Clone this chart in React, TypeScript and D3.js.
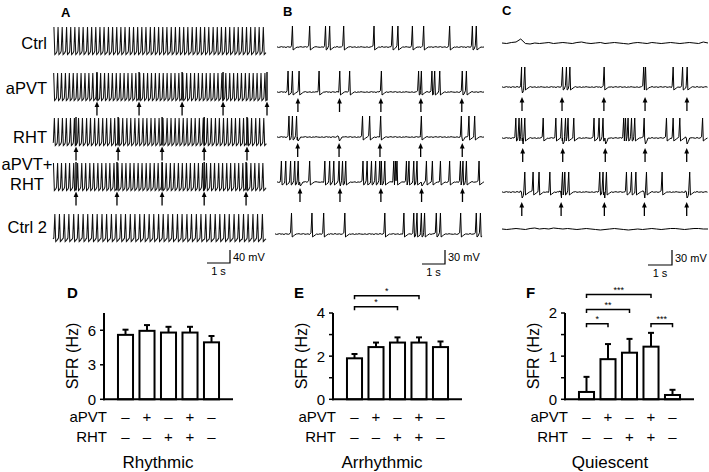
import React from "react";
import * as d3 from "d3";

// ---------- Panel A: spike times (units of 10 ms) ----------
const A_CTRL = [4,22,40,59,77,95,113,131,150,168,186,204,222,241,259,277,295,313,332,350,368,386,404,423,441,459,477,495,514,532,550,568,586,605,623,641,659,677,696,714,732,750,768,787,805,823,841,859,878,896,914];
const A_APVT = [3,20,37,54,71,88,105,122,139,156,173,191,207,224,241,258,275,292,309,326,343,360,377,394,411,428,445,462,479,496,513,530,547,564,581,598,615,632,649,666,683,700,717,734,751,768,785,802,819,836,853,870,887,904,921];
const A_RHT = [6,23,41,58,76,93,111,128,146,163,181,198,216,233,251,268,286,303,321,338,356,373,391,408,426,443,461,478,496,513,531,548,566,583,601,618,636,653,671,688,706,723,741,758,776,793,811,828,846,863,881,898,916];
const A_BOTH = [2,20,37,55,72,90,107,125,142,160,177,195,212,230,247,265,282,300,317,335,352,370,387,405,422,440,457,475,492,510,527,545,562,580,597,615,632,650,667,685,702,720,737,755,772,790,807,825,842,860,877,895,912];
const A_CTRL2 = [8,28,49,69,90,110,131,151,172,192,213,233,254,274,295,315,336,356,377,397,418,438,459,479,500,520,541,561,582,602,623,643,664,684,705,725,746,766,787,807,828,848,869,889,910];
const A_STIM_APVT = [191, 374, 561, 739, 930];
const A_STIM_RHT = [100, 283, 474, 657, 843];
const A_STIM_BOTH = [100, 278, 474, 657, 839];

// ---------- Panel B: spike times (s) ----------
const B_CTRL = [0.68,1.43,2.12,2.30,2.91,4.23,5.03,5.27,5.90,6.39,7.52,8.51,8.68];
const B_APVT = [0.49,0.68,0.97,1.84,2.74,3.17,4.55,6.17,6.29,6.75,6.87,7.09,8.07,8.25];
const B_RHT = [0.53,0.68,0.86,2.70,3.73,4.04,4.52,6.29,8.03,8.36,8.61];
const B_BOTH = [0.20,0.39,0.60,0.78,0.93,1.43,2.09,2.30,2.48,2.71,2.86,3.00,3.75,3.93,4.12,4.30,4.48,4.55,4.70,5.09,5.17,5.23,5.64,5.75,5.96,6.10,6.51,6.77,7.12,7.52,7.99,8.10,8.25,8.80];
const B_CTRL2 = [0.64,1.53,2.04,2.96,4.70,5.53,5.96,6.10,6.29,6.43,6.94,7.12,8.00,8.68,8.86];
const B_STIM_APVT = [0.91,2.72,4.52,6.26,8.04];
const B_STIM_RHT = [0.90,2.70,4.48,6.25,8.06];
const B_STIM_BOTH = [1.00,2.74,4.52,6.29,8.07];

// ---------- Panel C: spike times (s) ----------
const C_APVT = [0.86,1.00,2.64,2.81,2.96,4.45,6.17,6.25,7.45,7.86,8.06];
const C_RHT = [0.61,0.75,0.86,1.00,1.80,2.35,2.60,2.77,2.88,3.13,4.01,4.23,4.40,5.30,5.38,5.49,5.64,5.78,6.19,7.16,7.45,7.74,8.03,8.73];
const C_BOTH = [0.86,1.00,1.36,1.62,2.09,2.57,2.64,2.74,2.91,4.26,4.40,4.55,5.42,5.64,5.83,6.19,6.29,6.97,8.03,8.17];
const C_STIM_APVT = [0.87,2.61,4.43,6.22,8.04];
const C_STIM_RHT = [0.90,2.64,4.49,6.22,8.03];
const C_STIM_BOTH = [0.86,2.57,4.45,6.19,8.03];
const C_CTRL_WIGGLE = [0,0.5,-0.5,-1,-4,0.5,1,0,0.5,0,-0.5,0.5,0,-0.5,0,0.5,-0.5,-1,0,0.5,0,-0.5,0.5,0,-0.5,0,0.5,1,0,-0.5,0,0.5,-0.5,0,0.5,0,-0.5,0,0.5,0,-0.5,0,0.5,-1,0];
const C_CTRL2_WIGGLE = [0,0.5,0,-0.5,0,0.5,-0.5,-1,0,-0.5,0,-1,-0.5,0,-0.5,0,0.5,0,-0.5,0,0.5,1,0.5,0,-0.5,0,0.5,1,0.5,0,0.5,0,-0.5,0,0.5,0,-0.5,-0.5,0,0.5,0,-0.5,-0.5,0,0];
const NOISE = [0.3,-0.2,0.4,0.1,-0.4,0.2,-0.1,0.5,-0.3,0,0.3,-0.5,0.2,0.1,-0.2,0.4,-0.1,-0.3,0.2,0,-0.4,0.3,0.1,-0.2,0.5,-0.1,0.2,-0.3,0,0.2];

const ROW_LABELS = ["Ctrl", "aPVT", "RHT", "aPVT+|RHT", "Ctrl 2"];

// ---------- Bar charts ----------
const CONDITIONS = ["ctrl", "apvt", "rht", "both", "ctrl2"];
const APVT_SIGNS = ["–", "+", "–", "+", "–"];
const RHT_SIGNS = ["–", "–", "+", "+", "–"];
const D_MEAN = [5.6, 5.95, 5.8, 5.8, 4.95];
const D_ERR = [0.45, 0.5, 0.5, 0.5, 0.55];
const E_MEAN = [1.9, 2.42, 2.63, 2.63, 2.42];
const E_ERR = [0.2, 0.21, 0.24, 0.24, 0.26];
const F_MEAN = [0.17, 0.93, 1.08, 1.22, 0.1];
const F_ERR = [0.35, 0.35, 0.32, 0.32, 0.12];
const D_TICKS = [0, 3, 6];
const E_TICKS = [0, 2, 4];
const E_MINOR = [1, 3];
const F_TICKS = [0, 1, 2];
const F_MINOR = [0.5, 1.5];
const E_SIG = [{ a: 0, b: 3, label: "*", at: 4.8 }, { a: 0, b: 2, label: "*", at: 4.29 }];
const F_SIG = [
  { a: 0, b: 3, label: "***", at: 2.43 },
  { a: 0, b: 2, label: "**", at: 2.08 },
  { a: 0, b: 1, label: "*", at: 1.75 },
  { a: 3, b: 4, label: "***", at: 1.75 },
];

const FONT = "'Liberation Sans', Arial, Helvetica, sans-serif";

type Shape = number[][];

function tracePath(spikeX: number[], stimX: number[], x0: number, x1: number, base: number, amp: number, dense: boolean, stimDepth: number): string {
  const spikeShape: Shape = dense
    ? [[-1, -1], [0, -amp], [0.9, 2.5], [1.8, 1.6], [2.6, 0.6]]
    : [[-1.2, -1.2], [-0.2, -amp], [0.5, 3], [1.5, 2.2], [3, 1], [4.5, 0]];
  const stimShape: Shape = [[-0.4, 0], [0.4, stimDepth], [1.6, stimDepth * 0.6], [3, 0]];
  const evs = [
    ...spikeX.map((x) => ({ x, shape: spikeShape })),
    ...stimX.map((x) => ({ x, shape: stimShape })),
  ].sort((p, q) => p.x - q.x);
  const pts: [number, number][] = [];
  evs.forEach((e, i) => {
    const nextStart = i < evs.length - 1 ? evs[i + 1].x + evs[i + 1].shape[0][0] : Infinity;
    e.shape.forEach(([dx, dy]) => {
      const px = e.x + dx;
      if (px < nextStart && px >= x0 && px <= x1) pts.push([px, base + dy]);
    });
  });
  let k = 0;
  for (let x = x0; x <= x1; x += 1.5) {
    k++;
    const inside = evs.some((e) => x >= e.x + e.shape[0][0] - 0.2 && x <= e.x + e.shape[e.shape.length - 1][0] + 0.2);
    if (!inside) pts.push([x, base + NOISE[k % NOISE.length]]);
  }
  pts.sort((p, q) => p[0] - q[0]);
  return d3.line()(pts) || "";
}

function Arrow({ x, tip }: { x: number; tip: number }) {
  return (
    <g>
      <line x1={x} x2={x} y1={tip + 4} y2={tip + 14} stroke="#000" strokeWidth={1.3} />
      <path d={`M${x},${tip} L${x - 2.4},${tip + 5.5} L${x + 2.4},${tip + 5.5} Z`} fill="#000" />
    </g>
  );
}

function ScaleBar({ xr, yb, h, w, mv }: { xr: number; yb: number; h: number; w: number; mv: string }) {
  return (
    <g fontFamily={FONT} fontSize={11}>
      <path d={`M${xr - w},${yb} H${xr} V${yb - h}`} fill="none" stroke="#000" strokeWidth={1.2} />
      <text x={xr + 3} y={yb - h / 2 + 4}>{mv}</text>
      <text x={xr - w / 2} y={yb + 12} textAnchor="middle">1 s</text>
    </g>
  );
}

function BarPanel({ x0, means, errs, max, ticks, minor, sig, title, titleX }: {
  x0: number; means: number[]; errs: number[]; max: number; ticks: number[]; minor: number[];
  sig: { a: number; b: number; label: string; at: number }[]; title: string; titleX: number;
}) {
  const y = d3.scaleLinear().domain([0, max]).range([399.3, 313]);
  const x = d3.scaleBand<string>().domain(CONDITIONS).range([x0 + 10.75, x0 + 118.25]).paddingInner(0.3).paddingOuter(0.15);
  const cx = (i: number) => (x(CONDITIONS[i]) as number) + x.bandwidth() / 2;
  return (
    <g fontFamily={FONT}>
      {means.map((m, i) => (
        <g key={i}>
          <line x1={cx(i)} x2={cx(i)} y1={y(m)} y2={y(m + errs[i])} stroke="#000" strokeWidth={2} />
          <line x1={cx(i) - 3} x2={cx(i) + 3} y1={y(m + errs[i])} y2={y(m + errs[i])} stroke="#000" strokeWidth={2} />
          <rect x={x(CONDITIONS[i]) as number} y={y(m)} width={x.bandwidth()} height={y(0) - y(m)} fill="#fff" stroke="#000" strokeWidth={2} />
        </g>
      ))}
      <line x1={x0} x2={x0} y1={y(max)} y2={y(0) + 1} stroke="#000" strokeWidth={2} />
      <line x1={x0 - 1} x2={x0 + 129} y1={y(0)} y2={y(0)} stroke="#000" strokeWidth={2} />
      {ticks.concat(minor).map((t) => (
        <line key={"t" + t} x1={x0 - 4} x2={x0} y1={y(t)} y2={y(t)} stroke="#000" strokeWidth={1.5} />
      ))}
      {ticks.map((t) => (
        <text key={"l" + t} x={x0 - 8} y={y(t)} dy="0.36em" textAnchor="end" fontSize={15}>{t}</text>
      ))}
      <text transform={`translate(${x0 - 32},356) rotate(-90)`} textAnchor="middle" dy="0.36em" fontSize={16}>SFR (Hz)</text>
      <text x={x0 + 3} y={417} dy="0.36em" textAnchor="end" fontSize={15}>aPVT</text>
      <text x={x0 + 3} y={437} dy="0.36em" textAnchor="end" fontSize={15}>RHT</text>
      {APVT_SIGNS.map((s, i) => (
        <text key={"a" + i} x={cx(i)} y={417} dy="0.36em" textAnchor="middle" fontSize={15}>{s}</text>
      ))}
      {RHT_SIGNS.map((s, i) => (
        <text key={"r" + i} x={cx(i)} y={437} dy="0.36em" textAnchor="middle" fontSize={15}>{s}</text>
      ))}
      <text x={titleX} y={462} dy="0.36em" textAnchor="middle" fontSize={17}>{title}</text>
      {sig.map((s, i) => {
        const yy = y(s.at);
        return (
          <g key={"s" + i}>
            <path d={`M${cx(s.a)},${yy + 3.5} V${yy} H${cx(s.b)} V${yy + 3.5}`} fill="none" stroke="#000" strokeWidth={1.5} />
            <text x={(cx(s.a) + cx(s.b)) / 2} y={yy - 1.5} textAnchor="middle" fontSize={9}>{s.label}</text>
          </g>
        );
      })}
    </g>
  );
}

export default function App() {
  // Panel A
  const ax = d3.scaleLinear().domain([0, 930]).range([53, 267]);
  const aRows = [A_CTRL, A_APVT, A_RHT, A_BOTH, A_CTRL2];
  const aStims = [[], A_STIM_APVT, A_STIM_RHT, A_STIM_BOTH, []];
  const aBase = [52, 98, 143, 188, 239];
  const aAmp = 25;
  // Panel B
  const bx = d3.scaleLinear().domain([0, 9.05]).range([277, 485]);
  const bRows = [B_CTRL, B_APVT, B_RHT, B_BOTH, B_CTRL2];
  const bStims = [[], B_STIM_APVT, B_STIM_RHT, B_STIM_BOTH, []];
  const bBase = [47, 92, 137, 182, 234];
  // Panel C
  const cx = d3.scaleLinear().domain([0, 9]).range([502, 709]);
  const cRows = [[], C_APVT, C_RHT, C_BOTH, []];
  const cStims = [[], C_STIM_APVT, C_STIM_RHT, C_STIM_BOTH, []];
  const cBase = [43, 87, 138, 192, 229];

  const wigglePath = (vals: number[], base: number) => {
    const s = d3.scaleLinear().domain([0, vals.length - 1]).range([502, 708]);
    return d3.line<number>().x((_, i) => s(i)).y((v) => base + v)(vals) || "";
  };

  return (
    <svg width={709} height={472} style={{ position: "absolute", left: 0, top: 0, background: "#fff" }} fontFamily={FONT}>
      <rect width={709} height={472} fill="#fff" />
      {/* panel letters */}
      <g fontWeight="bold" fontSize={13}>
        <text x={61} y={17}>A</text>
        <text x={283} y={16}>B</text>
        <text x={502} y={15}>C</text>
      </g>
      <g fontWeight="bold" fontSize={15}>
        <text x={67} y={298}>D</text>
        <text x={294} y={298}>E</text>
        <text x={526} y={298}>F</text>
      </g>
      {/* row labels */}
      <g fontSize={16.5}>
        <text x={47} y={43} dy="0.36em" textAnchor="end">Ctrl</text>
        <text x={47} y={88} dy="0.36em" textAnchor="end">aPVT</text>
        <text x={47} y={137} dy="0.36em" textAnchor="end">RHT</text>
        <text x={27} y={164} dy="0.36em" textAnchor="middle">{ROW_LABELS[3].split("|")[0]}</text>
        <text x={27} y={184} dy="0.36em" textAnchor="middle">{ROW_LABELS[3].split("|")[1]}</text>
        <text x={47} y={227} dy="0.36em" textAnchor="end">Ctrl 2</text>
      </g>
      {/* Panel A traces */}
      {aRows.map((row, r) => (
        <g key={"A" + r}>
          <path d={tracePath(row.map(ax), [], 53, 267, aBase[r], aAmp, true, 0)} fill="none" stroke="#111" strokeWidth={1.05} />
          {aStims[r].map((t, i) => (
            <line key={i} x1={ax(t)} x2={ax(t)} y1={aBase[r] + 2.5} y2={aBase[r] - aAmp - 1} stroke="#000" strokeWidth={1.4} />
          ))}
          {aStims[r].map((t, i) => (
            <Arrow key={"ar" + i} x={ax(t)} tip={aBase[r] + 3.5} />
          ))}
        </g>
      ))}
      {/* Panel B traces */}
      {bRows.map((row, r) => (
        <g key={"B" + r}>
          <path d={tracePath(row.map(bx), bStims[r].map(bx), r === 4 ? 275 : 277, r === 4 ? 483 : 485, bBase[r], 21, false, 4)} fill="none" stroke="#000" strokeWidth={1} />
          {bStims[r].map((t, i) => (
            <Arrow key={i} x={bx(t)} tip={bBase[r] + 6} />
          ))}
        </g>
      ))}
      {/* Panel C traces */}
      <path d={wigglePath(C_CTRL_WIGGLE, cBase[0])} fill="none" stroke="#000" strokeWidth={1} />
      <path d={wigglePath(C_CTRL2_WIGGLE, cBase[4])} fill="none" stroke="#000" strokeWidth={1} />
      {cRows.map((row, r) =>
        r === 0 || r === 4 ? null : (
          <g key={"C" + r}>
            <path d={tracePath(row.map(cx), cStims[r].map(cx), 502, 708, cBase[r], 20, false, 6)} fill="none" stroke="#000" strokeWidth={1} />
            {cStims[r].map((t, i) => (
              <Arrow key={i} x={cx(t)} tip={cBase[r] + 10} />
            ))}
          </g>
        )
      )}
      {/* scale bars */}
      <ScaleBar xr={230} yb={263} h={13} w={23} mv="40 mV" />
      <ScaleBar xr={445} yb={264} h={14} w={23} mv="30 mV" />
      <ScaleBar xr={672} yb={265} h={15} w={24} mv="30 mV" />
      {/* bar charts */}
      <BarPanel x0={104} means={D_MEAN} errs={D_ERR} max={7.5} ticks={D_TICKS} minor={[]} sig={[]} title="Rhythmic" titleX={158} />
      <BarPanel x0={333} means={E_MEAN} errs={E_ERR} max={4} ticks={E_TICKS} minor={E_MINOR} sig={E_SIG} title="Arrhythmic" titleX={382} />
      <BarPanel x0={565} means={F_MEAN} errs={F_ERR} max={2} ticks={F_TICKS} minor={F_MINOR} sig={F_SIG} title="Quiescent" titleX={610} />
    </svg>
  );
}
